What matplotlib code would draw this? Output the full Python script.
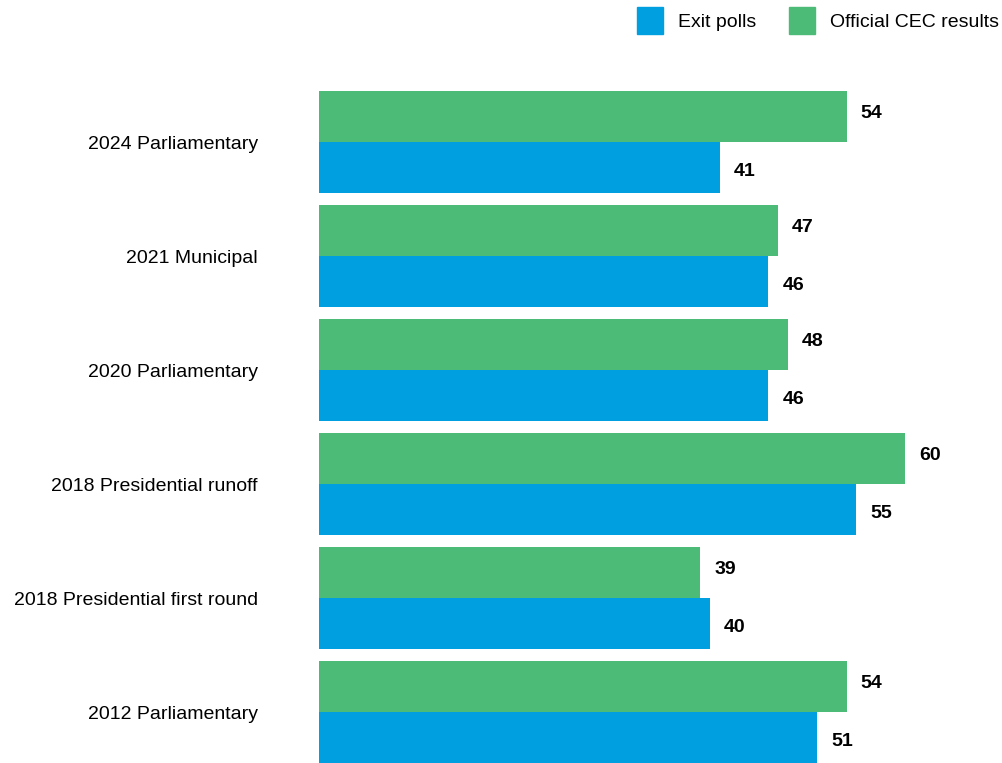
import matplotlib.pyplot as plt
from matplotlib.patches import Patch
import numpy as np

categories = ['2024 Parliamentary', '2021 Municipal', '2020 Parliamentary',
              '2018 Presidential runoff', '2018 Presidential first round',
              '2012 Parliamentary']
official = [54, 47, 48, 60, 39, 54]
exit_polls = [41, 46, 46, 55, 40, 51]

blue = '#009FDF'
green = '#4DBB78'

plt.rcParams['font.family'] = ['Liberation Sans Narrow', 'Liberation Sans', 'DejaVu Sans']
fs = 14

fig = plt.figure(figsize=(10.02, 7.63), dpi=100)
ax = fig.add_axes([319 / 1002, 0, 1 - 319 / 1002, 683 / 763])

y = np.arange(len(categories))
h = 0.447
ax.barh(y - h / 2, official, height=h, color=green)
ax.barh(y + h / 2, exit_polls, height=h, color=blue)

for yi, v in zip(y, official):
    ax.annotate(str(v), (v, yi - h / 2), xytext=(14, 3), textcoords='offset pixels',
                va='center', ha='left', fontsize=fs, fontweight='bold')
for yi, v in zip(y, exit_polls):
    ax.annotate(str(v), (v, yi + h / 2), xytext=(14, -4), textcoords='offset pixels',
                va='center', ha='left', fontsize=fs, fontweight='bold')

ax.set_xlim(0, 69.9)
ax.set_ylim(5.447, -0.544)
ax.set_yticks(y)
ax.set_yticklabels(categories, fontsize=fs)
ax.tick_params(axis='y', length=0, pad=44)
ax.set_xticks([])
for s in ax.spines.values():
    s.set_visible(False)

handles = [Patch(color=blue), Patch(color=green)]
fig.legend(handles, ['Exit polls', 'Official CEC results'], loc='upper right',
           bbox_to_anchor=(1.0, 1.0 - 4 / 763), ncol=2, frameon=False, fontsize=fs,
           handlelength=1.34, handleheight=1.75, handletextpad=0.77,
           columnspacing=1.7, borderpad=0.15, borderaxespad=0)

fig.savefig('out.png', dpi=100)
